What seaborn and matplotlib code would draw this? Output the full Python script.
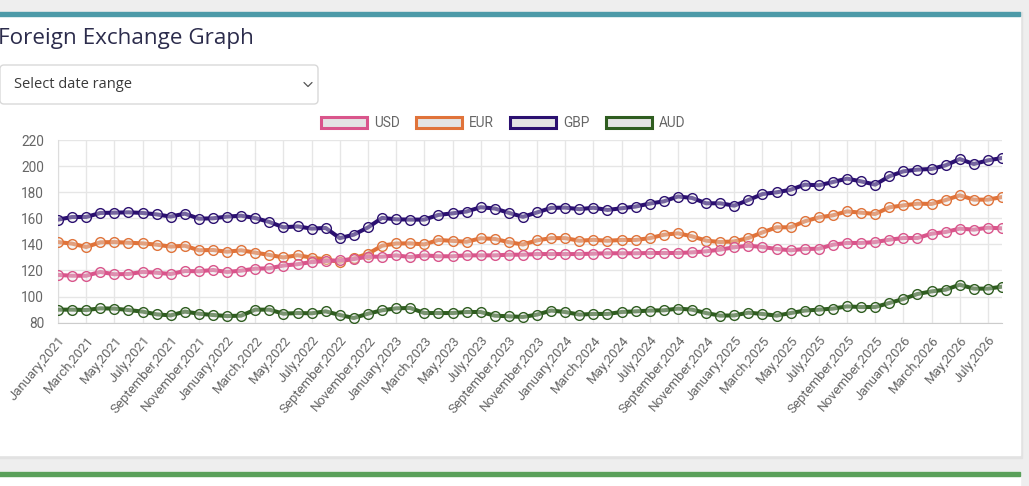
import pandas as pd
import numpy as np
import matplotlib.pyplot as plt
import seaborn as sns
from matplotlib.patches import Rectangle, FancyBboxPatch

# monthly points, January 2021 .. August 2026
dates = pd.date_range("2021-01-01", "2026-08-01", freq="MS")
month_labels = list(dates.strftime("%B,%Y"))

usd = [116.6, 116.0, 116.0, 118.9, 117.1, 117.3, 118.9, 118.3, 117.3, 119.6,
       119.4, 120.4, 118.9, 119.9, 121.4, 121.7, 123.8, 124.8, 126.5, 127.3,
       127.8, 128.8, 130.6, 130.6, 131.6, 130.3, 131.6, 130.9, 130.9, 131.6,
       131.6, 131.6, 132.1, 132.1, 132.6, 132.6, 132.6, 132.6, 132.9, 133.2,
       133.2, 133.2, 133.4, 133.4, 133.4, 133.9, 134.7, 136.0, 137.8, 139.0,
       138.0, 136.5, 135.5, 136.5, 136.7, 139.8, 141.1, 141.1, 141.8, 143.6,
       144.9, 144.9, 148.2, 149.5, 152.1, 151.3, 152.8, 152.3]
eur = [141.8, 140.6, 138.0, 141.6, 141.8, 141.3, 140.8, 139.8, 138.3, 139.0,
       135.5, 135.7, 134.4, 135.5, 133.7, 131.9, 130.0, 131.7, 129.9, 128.5,
       126.5, 129.4, 132.8, 139.0, 140.7, 140.8, 140.0, 143.4, 142.7, 142.0,
       144.7, 144.2, 141.7, 139.9, 143.1, 144.8, 144.8, 142.8, 143.5, 142.8,
       143.4, 143.4, 144.8, 147.4, 148.5, 146.2, 142.9, 141.8, 142.3, 144.9,
       149.2, 153.1, 153.1, 157.7, 160.7, 162.3, 165.3, 164.3, 163.3, 168.4,
       169.9, 171.2, 171.0, 174.0, 177.6, 174.3, 174.3, 176.3]
gbp = [159.0, 161.0, 161.0, 164.1, 164.3, 164.6, 164.1, 163.0, 161.3, 163.6,
       159.7, 160.0, 161.3, 162.0, 160.2, 157.2, 153.1, 153.8, 152.1, 152.6,
       144.8, 147.5, 153.0, 160.3, 159.2, 159.0, 159.0, 162.6, 163.8, 165.2,
       168.5, 167.5, 164.2, 161.1, 164.5, 168.0, 168.2, 167.0, 168.1, 166.4,
       167.7, 169.0, 171.3, 173.0, 176.7, 175.6, 171.5, 171.5, 169.7, 174.0,
       178.6, 179.9, 181.9, 185.8, 185.3, 187.8, 190.4, 188.3, 185.8, 192.2,
       196.0, 197.3, 197.8, 200.6, 205.4, 201.6, 204.4, 206.2]
aud = [90.0, 90.0, 89.7, 91.0, 90.8, 89.7, 88.5, 86.4, 85.6, 88.5,
       86.9, 85.9, 85.1, 85.4, 90.0, 90.0, 86.9, 87.4, 87.2, 88.7,
       85.9, 83.6, 86.9, 89.5, 91.0, 91.3, 87.4, 87.4, 87.4, 88.2,
       88.2, 85.4, 84.9, 84.4, 86.2, 89.3, 88.2, 86.2, 86.7, 86.7,
       88.2, 88.7, 89.3, 89.5, 90.8, 90.0, 87.4, 85.4, 85.6, 87.7,
       86.7, 85.4, 87.4, 89.3, 90.0, 90.8, 92.5, 92.0, 92.0, 95.1,
       98.2, 102.0, 104.0, 105.3, 109.1, 106.1, 106.1, 107.6]

currencies = ["USD", "EUR", "GBP", "AUD"]
colors = {"USD": "#d9558b", "EUR": "#e0733a", "GBP": "#2b1070", "AUD": "#2f5d20"}

df = pd.DataFrame({"month": np.arange(len(dates)),
                   "USD": usd, "EUR": eur, "GBP": gbp, "AUD": aud})
long_df = df.melt(id_vars="month", var_name="currency", value_name="rate")

sns.set_style("white")
plt.rcParams["font.family"] = ["Roboto", "DejaVu Sans"]

W, H = 1029, 486
fig = plt.figure(figsize=(W / 100, H / 100), dpi=100)

# page / card background drawn in pixel coordinates
bg = fig.add_axes([0, 0, 1, 1])
bg.set_xlim(0, W)
bg.set_ylim(H, 0)
bg.axis("off")
bg.add_patch(Rectangle((0, 0), W, H, color="#eeeeee", zorder=0))
bg.add_patch(Rectangle((-5, 12), 1027, 446, color="#e2e2e2", zorder=1))
bg.add_patch(Rectangle((-5, 12), 1025, 443, color="white", zorder=2))
bg.add_patch(Rectangle((-5, 12), 1025, 4, color="#4c9aa8", zorder=3))
bg.add_patch(Rectangle((-5, 472), 1025, 20, color="white", zorder=2))
bg.add_patch(Rectangle((-5, 472), 1025, 4, color="#5aa05a", zorder=3))

bg.text(-2, 38.5, "Foreign Exchange Graph", fontsize=16.2, color="#2c2c4c",
        va="center", ha="left", family=["Open Sans", "DejaVu Sans"], zorder=4)
bg.add_patch(FancyBboxPatch((0, 65), 318, 39, boxstyle="round,pad=0,rounding_size=4",
                            facecolor="white", edgecolor="#d9d9d9", lw=1, zorder=4))
bg.text(14, 84.5, "Select date range", fontsize=10.5, color="#3a3a3a",
        va="center", ha="left", family=["Open Sans", "DejaVu Sans"], zorder=5)
bg.plot([304, 308, 312], [82.5, 86.5, 82.5], color="#555555", lw=0.9, zorder=5)

# chart area
left, right, top, bottom = 58, 1002, 140, 322.7
ax = fig.add_axes([left / W, 1 - bottom / H, (right - left) / W, (bottom - top) / H])
ax.set_facecolor("none")

for i, cur in enumerate(currencies):
    sub = long_df[long_df["currency"] == cur]
    sns.lineplot(data=sub, x="month", y="rate", ax=ax, color=colors[cur],
                 linewidth=2.9, marker="o", markersize=7,
                 markerfacecolor=(0.9, 0.9, 0.9, 0.4), markeredgecolor=colors[cur],
                 markeredgewidth=1.0, zorder=10 - i, legend=False)

ax.set_xlim(0, len(dates) - 1)
ax.set_ylim(80, 220)
ax.set_yticks(range(80, 221, 20))
tick_pos = list(range(0, len(dates), 2))
ax.set_xticks(tick_pos)
ax.set_xticklabels([month_labels[p] for p in tick_pos], rotation=50,
                   ha="right", va="top", rotation_mode="anchor")
ax.set_xlabel("")
ax.set_ylabel("")
ax.grid(True, color="#e6e6e6", lw=1)
ax.tick_params(axis="y", length=7, color="#e6e6e6", pad=3, labelsize=9.8, labelcolor="#666666")
ax.tick_params(axis="x", length=6, color="#e6e6e6", pad=2, labelsize=9.5, labelcolor="#666666")
for s in ["top", "right"]:
    ax.spines[s].set_visible(False)
ax.spines["left"].set_color("#dddddd")
ax.spines["bottom"].set_color("#cccccc")

handles = [Rectangle((0, 0), 1, 1, facecolor="#e4e4e4", edgecolor=colors[c], lw=2.2)
           for c in currencies]
fig.legend(handles, currencies, loc="center", bbox_to_anchor=(503 / W, 1 - 123 / H),
           ncol=4, frameon=False, fontsize=9.8, labelcolor="#666666",
           handlelength=3.4, handleheight=0.85, handletextpad=0.5, columnspacing=1.2)

fig.savefig("out.png", dpi=100)
